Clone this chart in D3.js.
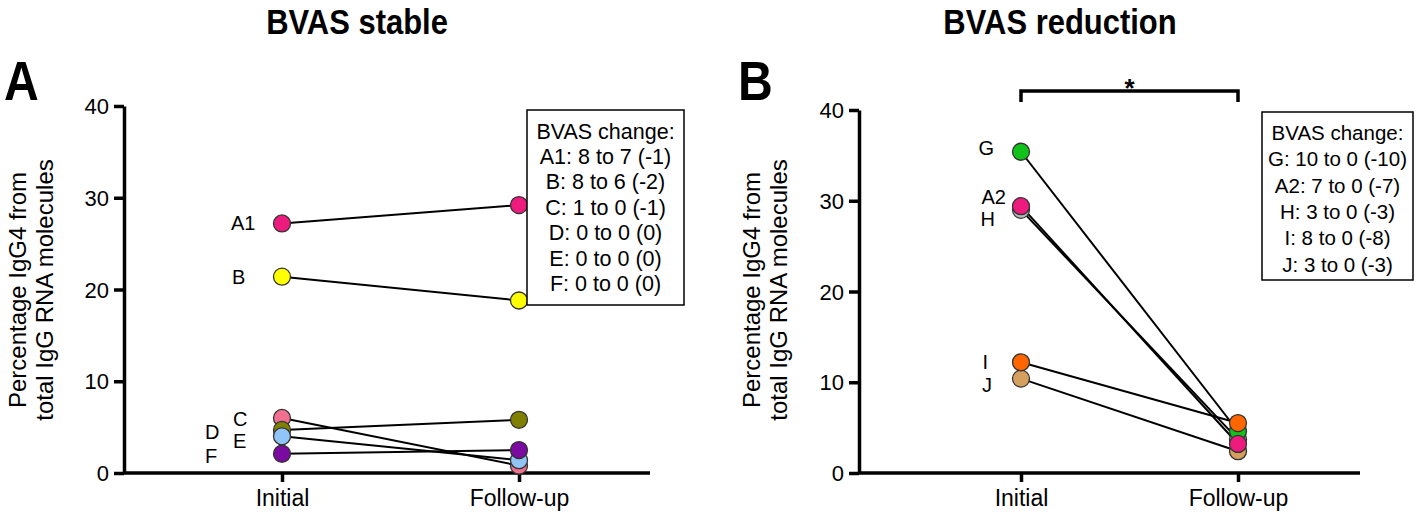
<!DOCTYPE html>
<html>
<head>
<meta charset="utf-8">
<script src="https://cdn.jsdelivr.net/npm/d3@7/dist/d3.min.js"></script>
<style>
  body { margin: 0; background: #fff; }
  svg { display: block; }
  text { font-family: "Liberation Sans", Arial, sans-serif; fill: #000; }
</style>
</head>
<body>
<svg id="chart" width="1418" height="520"></svg>
<script>
// ---------- data ----------
const timepoints = ["Initial", "Follow-up"];
const yTicks = [0, 10, 20, 30, 40];

const subjectsA = ["A1", "B", "C", "D", "E", "F"];
const initialA  = [27.2, 21.4, 6.0, 4.7, 4.0, 2.1];
const followA   = [29.2, 18.8, 0.8, 5.8, 1.4, 2.5];
const colorsA   = ["#ee1b7f", "#ffff00", "#f2708f", "#808000", "#92c5f7", "#7a0aa0"];
const legendA   = ["BVAS change:", "A1: 8 to 7 (-1)", "B: 8 to 6 (-2)", "C: 1 to 0 (-1)",
                   "D: 0 to 0 (0)", "E: 0 to 0 (0)", "F: 0 to 0 (0)"];

const subjectsB = ["J", "H", "G", "A2", "I"];
const initialB  = [10.4, 29.0, 35.4, 29.4, 12.2];
const followB   = [2.4, 3.7, 4.6, 3.2, 5.5];
const colorsB   = ["#d5a05e", "#b8b8b8", "#11c21a", "#ee1b7f", "#ff6600"];
const legendB   = ["BVAS change:", "G: 10 to 0 (-10)", "A2: 7 to 0 (-7)", "H: 3 to 0 (-3)",
                   "I: 8 to 0 (-8)", "J: 3 to 0 (-3)"];

// ---------- label styling (offsets, not data) ----------
const labelStyleA = {
  A1: {anchor: "start", dx: -51, dy: 0},
  B:  {anchor: "start", dx: -50, dy: 0},
  C:  {anchor: "start", dx: -49, dy: 1},
  D:  {anchor: "start", dx: -77, dy: 2},
  E:  {anchor: "start", dx: -49, dy: 5},
  F:  {anchor: "start", dx: -77, dy: 2}
};
const labelStyleB = {
  G:  {anchor: "end", dx: -27, dy: -4},
  A2: {anchor: "end", dx: -15, dy: -9},
  H:  {anchor: "end", dx: -26, dy: 9},
  I:  {anchor: "end", dx: -33, dy: 0},
  J:  {anchor: "end", dx: -29, dy: 6}
};

const svg = d3.select("#chart");

function panel(cfg) {
  const g = svg.append("g");
  const y = d3.scaleLinear().domain([0, 40]).range([cfg.y0, cfg.y40]);
  const x = d3.scalePoint().domain(timepoints).range([cfg.xInit, cfg.xFollow]);

  // y axis
  const ya = g.append("g")
    .attr("transform", `translate(${cfg.axisX},0)`)
    .call(d3.axisLeft(y).tickValues(yTicks).tickSize(10).tickSizeOuter(0).tickPadding(5));
  ya.select(".domain").attr("stroke-width", 3.5).attr("stroke", "#000");
  ya.selectAll(".tick line").attr("stroke-width", 3.5).attr("stroke", "#000");
  ya.selectAll(".tick text").style("font-size", "22px").attr("dy", "0.35em")
    .style("font-family", "'Liberation Sans', Arial, sans-serif");

  // x axis
  const xa = g.append("g")
    .attr("transform", `translate(0,${cfg.y0})`)
    .call(d3.axisBottom(x).tickSize(9).tickSizeOuter(0).tickPadding(8));
  xa.select(".domain").attr("d", `M${cfg.axisX},0H${cfg.axisEnd}`)
    .attr("stroke-width", 3.5).attr("stroke", "#000");
  xa.selectAll(".tick line").attr("stroke-width", 3.5).attr("stroke", "#000");
  xa.selectAll(".tick text").style("font-size", "23px")
    .style("font-family", "'Liberation Sans', Arial, sans-serif");

  // y axis title
  const tx = g.append("text")
    .attr("transform", `translate(${cfg.titleX},${cfg.titleY}) rotate(-90)`)
    .attr("text-anchor", "middle")
    .style("font-size", "24px");
  tx.append("tspan").attr("x", 0).attr("dy", 0).text("Percentage IgG4 from");
  tx.append("tspan").attr("x", 0).attr("dy", 27).text("total IgG RNA molecules");

  // panel title (condensed bold)
  g.append("text")
    .attr("transform", `translate(${cfg.headX},34) scale(0.86,1)`)
    .attr("text-anchor", "middle")
    .style("font-weight", "bold").style("font-size", "36px")
    .text(cfg.title);

  // panel letter
  g.append("text")
    .attr("transform", `translate(${cfg.letterX},100) scale(0.86,1)`)
    .style("font-weight", "bold").style("font-size", "56px")
    .text(cfg.letter);

  const rows = cfg.subjects.map((s, i) => ({s, a: cfg.initial[i], b: cfg.follow[i], c: cfg.colors[i]}));

  // lines
  g.append("g").selectAll("line").data(rows).join("line")
    .attr("x1", x("Initial")).attr("x2", x("Follow-up"))
    .attr("y1", d => y(d.a)).attr("y2", d => y(d.b))
    .attr("stroke", "#000").attr("stroke-width", 2);

  // points
  const pts = g.append("g");
  rows.forEach(d => {
    [["Initial", d.a], ["Follow-up", d.b]].forEach(([t, v]) => {
      pts.append("circle")
        .attr("cx", x(t)).attr("cy", y(v)).attr("r", 8.5)
        .attr("fill", d.c).attr("stroke", "#333").attr("stroke-width", 1.3);
    });
  });

  // point labels
  g.append("g").selectAll("text").data(rows).join("text")
    .attr("x", d => x("Initial") + cfg.labels[d.s].dx)
    .attr("y", d => y(d.a) + cfg.labels[d.s].dy)
    .attr("dy", "0.35em")
    .attr("text-anchor", d => cfg.labels[d.s].anchor)
    .style("font-size", "20px")
    .text(d => d.s);

  // legend box
  const lg = g.append("g");
  lg.append("rect")
    .attr("x", cfg.box[0]).attr("y", cfg.box[1])
    .attr("width", cfg.box[2]).attr("height", cfg.box[3])
    .attr("fill", "#fff").attr("stroke", "#000").attr("stroke-width", 1.5);
  lg.selectAll("text").data(cfg.legend).join("text")
    .attr("x", cfg.box[0] + cfg.box[2] / 2)
    .attr("y", (d, i) => cfg.box[1] + cfg.legendTop + i * cfg.legendStep)
    .attr("dy", "0.35em")
    .attr("text-anchor", "middle")
    .style("font-size", cfg.legendSize + "px")
    .text(d => d);

  return {g, x, y};
}

panel({
  axisX: 124, axisEnd: 650, y0: 473, y40: 106, xInit: 282, xFollow: 519,
  titleX: 26, titleY: 290, headX: 357, title: "BVAS stable", letter: "A", letterX: 4,
  subjects: subjectsA, initial: initialA, follow: followA, colors: colorsA,
  labels: labelStyleA, legend: legendA,
  box: [527, 110, 157, 195], legendTop: 21, legendStep: 25.4, legendSize: 21.5
});

const pB = panel({
  axisX: 859, axisEnd: 1360, y0: 473, y40: 110, xInit: 1021, xFollow: 1238,
  titleX: 760, titleY: 290, headX: 1060, title: "BVAS reduction", letter: "B", letterX: 738,
  subjects: subjectsB, initial: initialB, follow: followB, colors: colorsB,
  labels: labelStyleB, legend: legendB,
  box: [1262, 112, 151, 168], legendTop: 21, legendStep: 26.3, legendSize: 20.5
});

// significance bracket between the two timepoints in panel B
const bx1 = pB.x("Initial"), bx2 = pB.x("Follow-up");
pB.g.append("path")
  .attr("d", `M${bx1},102V91H${bx2}V102`)
  .attr("fill", "none").attr("stroke", "#000").attr("stroke-width", 3.5);
pB.g.append("text")
  .attr("x", (bx1 + bx2) / 2).attr("y", 97)
  .attr("text-anchor", "middle")
  .style("font-size", "26px").style("font-weight", "bold")
  .text("*");
</script>
</body>
</html>
